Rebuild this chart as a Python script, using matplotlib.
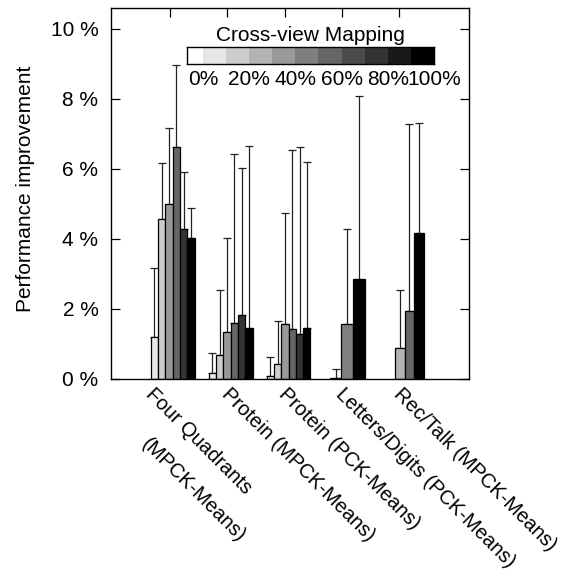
import numpy as np
import matplotlib
matplotlib.use("Agg")
import matplotlib.pyplot as plt

plt.rcParams['font.family'] = ['Liberation Sans', 'DejaVu Sans']

# datos
groups = ["Four Quadrants\n(MPCK-Means)", "Protein (MPCK-Means)", "Protein (PCK-Means)",
          "Letters/Digits (PCK-Means)", "Rec/Talk (MPCK-Means)"]
mapping = [[10, 20, 40, 60, 80, 100],
           [10, 20, 40, 60, 80, 100],
           [10, 20, 40, 60, 80, 100],
           [0, 50, 100],
           [30, 60, 100]]
improvement = [[1.19, 4.56, 4.99, 6.64, 4.30, 4.02],
               [0.16, 0.69, 1.33, 1.59, 1.83, 1.47],
               [0.10, 0.43, 1.57, 1.42, 1.30, 1.47],
               [0.03, 1.56, 2.87],
               [0.90, 1.95, 4.18]]
errors = [[1.97, 1.61, 2.17, 2.33, 1.61, 0.88],
          [0.57, 1.85, 2.69, 4.83, 4.19, 5.20],
          [0.54, 1.23, 3.17, 5.13, 5.33, 4.73],
          [0.27, 2.72, 5.22],
          [1.64, 5.34, 3.14]]
yticks = [0, 2, 4, 6, 8, 10]
cbar_edges = [-7, 0, 10, 20, 30, 40, 50, 60, 70, 80, 90, 100]
cbar_ticks = [0, 20, 40, 60, 80, 100]

# disposicion de las barras dentro de cada grupo
bar_width = [0.128, 0.128, 0.128, 0.204, 0.169]
group_start = [-0.337, -0.327, -0.314, -0.21, -0.07]

fs = 15
cmap = plt.cm.gray_r

fig = plt.figure(figsize=(5.79, 5.79), dpi=100)
ax = fig.add_axes([111 / 579, 1 - 379 / 579, 358 / 579, 371 / 579])

for g in range(len(groups)):
    n = len(improvement[g])
    w = bar_width[g]
    lefts = g + group_start[g] + w * np.arange(n)
    cols = [cmap(p / 100) for p in mapping[g]]
    ax.errorbar(lefts + w / 2, improvement[g], yerr=[np.zeros(n), errors[g]], fmt='none',
                ecolor='#222222', elinewidth=0.9, capsize=2.9, capthick=0.9, zorder=1)
    ax.bar(lefts, improvement[g], width=w, align='edge', color=cols,
           edgecolor='black', linewidth=0.9, zorder=2)

ax.set_xlim(-1.031, 5.223)
ax.set_ylim(0, 10.6)
ax.set_yticks(yticks)
ax.set_yticklabels([f"{v} %" for v in yticks], fontsize=fs)
ax.set_xticks(range(len(groups)))
ax.set_xticklabels([])
ax.tick_params(direction='in', top=True, right=True, length=6.5, width=0.9, pad=9)
for s in ax.spines.values():
    s.set_linewidth(1.0)
ax.set_ylabel("Performance improvement", fontsize=fs)
ax.yaxis.set_label_coords(-0.212, 0.512)

# etiquetas rotadas del eje x
single_off = [(2.9, -4.3)]
multi_off = [(-10.8, -4.3), (-13.7, -39.8)]
for g, name in enumerate(groups):
    lines = name.split("\n")
    offs = single_off if len(lines) == 1 else multi_off
    for line, off in zip(lines, offs):
        ax.annotate(line, xy=(g, 0), xycoords=('data', 'axes fraction'),
                    xytext=off, textcoords='offset points', rotation=-45,
                    ha='left', va='top', rotation_mode='anchor', fontsize=14.5,
                    annotation_clip=False)

# barra de colores
cax = fig.add_axes([186.7 / 579, 1 - 64.3 / 579, 247.3 / 579, 17.6 / 579])
edges = np.array(cbar_edges)
cax.bar(edges[:-1], 1, width=np.diff(edges), align='edge',
        color=[cmap(e / 100) for e in edges[1:]], linewidth=0)
cax.set_xlim(cbar_edges[0], cbar_edges[-1])
cax.set_ylim(0, 1)
cax.set_yticks([])
cax.set_xticks(cbar_ticks)
cax.set_xticklabels([f"{v}%" for v in cbar_ticks], fontsize=fs)
cax.tick_params(length=0, pad=4)
for s in cax.spines.values():
    s.set_linewidth(1.0)
cax.set_title("Cross-view Mapping", fontsize=fs, pad=4)

fig.savefig("out.png", dpi=100)
